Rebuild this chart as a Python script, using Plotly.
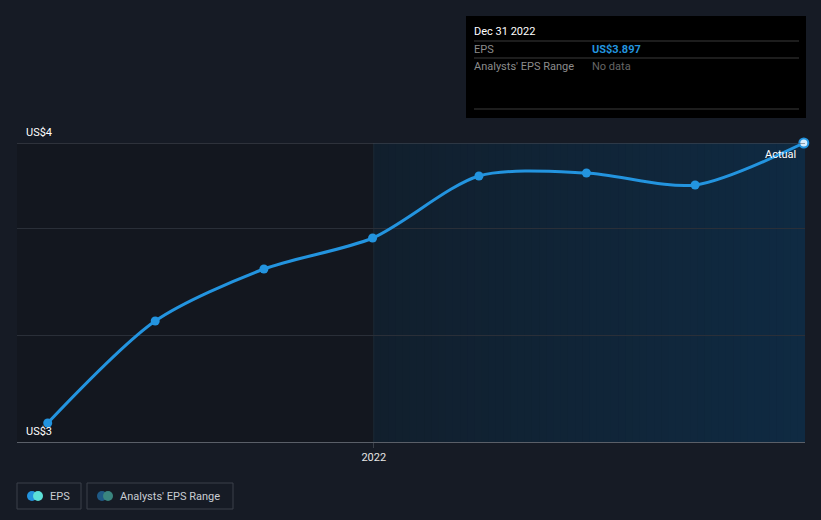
import plotly.graph_objects as go
import datetime as dt

# ---- data ----
dates = ["2021-03-31", "2021-06-30", "2021-09-30", "2021-12-31",
         "2022-03-31", "2022-06-30", "2022-09-30", "2022-12-31"]
eps = [3.057, 3.363, 3.519, 3.612, 3.798, 3.807, 3.771, 3.897]
y_tick_vals = [3.0, 3.321, 3.642, 3.897]
y_tick_text = ["US$3", "", "", "US$4"]
x_tick_vals = ["2022-01-01"]
x_tick_text = ["2022"]
tooltip_date = "Dec 31 2022"
tooltip_eps = "US$3.897"
legend_items = ["EPS", "Analysts' EPS Range"]

W, H = 821, 520
BG = "#161b25"
BLUE = "#2394df"
FS = 11

def px(x):
    return x / W

def py(y):
    return 1 - y / H

fig = go.Figure()

fig.add_trace(go.Scatter(
    x=dates, y=eps, mode="lines+markers",
    line=dict(color=BLUE, width=3, shape="spline", smoothing=0.8),
    marker=dict(size=9, color=[BLUE] * (len(eps) - 1) + ["#d8ecfa"],
                line=dict(color=BLUE, width=[0] * (len(eps) - 1) + [2])),
    cliponaxis=False, hoverinfo="skip", showlegend=False,
))

shapes = []
shapes.append(dict(type="rect", xref="x", yref="y domain", x0="2021-03-05", x1="2022-01-01",
                   y0=0, y1=1, fillcolor="#13171f", line_width=0, layer="below"))
start = dt.date(2022, 1, 1)
end = dt.date(2023, 1, 1)
n = 60
c0 = (0x11, 0x1f, 0x2d)
c1 = (0x0f, 0x2a, 0x42)
total = (end - start).days
for i in range(n):
    a = dt.datetime(2022, 1, 1) + dt.timedelta(days=total * i / n)
    b = dt.datetime(2022, 1, 1) + dt.timedelta(days=total * (i + 1) / n + 0.5)
    t = i / (n - 1)
    col = "rgb(%d,%d,%d)" % tuple(round(c0[k] + (c1[k] - c0[k]) * t) for k in range(3))
    shapes.append(dict(type="rect", xref="x", yref="y domain", x0=a.isoformat(), x1=b.isoformat(),
                       y0=0, y1=1, fillcolor=col, line_width=0, layer="below"))
shapes.append(dict(type="line", xref="x", yref="y domain", x0="2022-01-01", x1="2022-01-01",
                   y0=0, y1=1, line=dict(color="#1c2a36", width=1), layer="below"))
shapes.append(dict(type="line", xref="paper", yref="y", x0=px(17), x1=px(805),
                   y0=y_tick_vals[-1], y1=y_tick_vals[-1], line=dict(color="#4a4f58", width=1)))

# tooltip box
shapes.append(dict(type="rect", xref="paper", yref="paper", x0=px(466), x1=px(806),
                   y0=py(118), y1=py(16), fillcolor="#000000", line_width=0))
for yy in (41, 58, 109):
    shapes.append(dict(type="line", xref="paper", yref="paper", x0=px(474), x1=px(799),
                       y0=py(yy), y1=py(yy), line=dict(color="#3a3a3a", width=1)))

# legend boxes
leg_boxes = [(17, 81), (87, 233)]
for (a, b) in leg_boxes:
    shapes.append(dict(type="rect", xref="paper", yref="paper", x0=px(a), x1=px(b),
                       y0=py(509), y1=py(483), line=dict(color="#3b404a", width=1),
                       fillcolor="rgba(0,0,0,0)"))
icon_cols = [("#2394df", "#5ce0d8"), ("#1f5a86", "#3a857f")]
icon_x = [(32, 38), (102, 108)]
for (c_a, c_b), (xa, xb) in zip(icon_cols, icon_x):
    for cx, cc in ((xa, c_a), (xb, c_b)):
        shapes.append(dict(type="circle", xref="paper", yref="paper",
                           x0=px(cx - 5), x1=px(cx + 5), y0=py(501), y1=py(491),
                           fillcolor=cc, line_width=0))

annotations = []
for v, t in zip(y_tick_vals, y_tick_text):
    if t:
        annotations.append(dict(xref="paper", yref="y", x=px(24), y=v, text=t, showarrow=False,
                                xanchor="left", yanchor="bottom", yshift=2,
                                font=dict(color="#ffffff", size=FS)))
annotations.append(dict(xref="paper", yref="paper", x=px(798), y=py(154), text="Actual",
                        showarrow=False, xanchor="right", yanchor="middle",
                        font=dict(color="#ffffff", size=FS)))
annotations += [
    dict(xref="paper", yref="paper", x=px(472), y=py(31), text=tooltip_date, showarrow=False,
         xanchor="left", yanchor="middle", font=dict(color="#ffffff", size=FS)),
    dict(xref="paper", yref="paper", x=px(472), y=py(49), text="EPS", showarrow=False,
         xanchor="left", yanchor="middle", font=dict(color="#8c8c8c", size=FS)),
    dict(xref="paper", yref="paper", x=px(590), y=py(49), text="<b>" + tooltip_eps + "</b>", showarrow=False,
         xanchor="left", yanchor="middle", font=dict(color=BLUE, size=FS)),
    dict(xref="paper", yref="paper", x=px(472), y=py(66), text="Analysts' EPS Range", showarrow=False,
         xanchor="left", yanchor="middle", font=dict(color="#8c8c8c", size=FS)),
    dict(xref="paper", yref="paper", x=px(590), y=py(66), text="No data", showarrow=False,
         xanchor="left", yanchor="middle", font=dict(color="#666666", size=FS)),
]
for txt, xx in zip(legend_items, (48, 118)):
    annotations.append(dict(xref="paper", yref="paper", x=px(xx), y=py(496), text=txt, showarrow=False,
                            xanchor="left", yanchor="middle", font=dict(color="#c9cdd3", size=FS)))

fig.update_layout(
    width=W, height=H, margin=dict(l=0, r=0, t=0, b=0),
    paper_bgcolor=BG, plot_bgcolor=BG,
    font=dict(family="Roboto, sans-serif"),
    xaxis=dict(domain=[px(17), px(805)], range=["2021-03-05", "2023-01-01"], type="date",
               showgrid=False, zeroline=False, showline=True, linecolor="#5a5f68", linewidth=1,
               tickvals=x_tick_vals, ticktext=x_tick_text, ticks="outside", ticklen=5,
               tickcolor="#3a3f48", tickfont=dict(color="#e6e6e6", size=FS)),
    yaxis=dict(domain=[1 - 442 / H, 1 - 143 / H], range=[3.0, 3.897],
               tickvals=y_tick_vals, ticktext=["", "", "", ""], showgrid=True,
               gridcolor="#2a2f38", zeroline=False, showline=False, ticks=""),
    shapes=shapes, annotations=annotations,
)

fig.write_html("out.html")
